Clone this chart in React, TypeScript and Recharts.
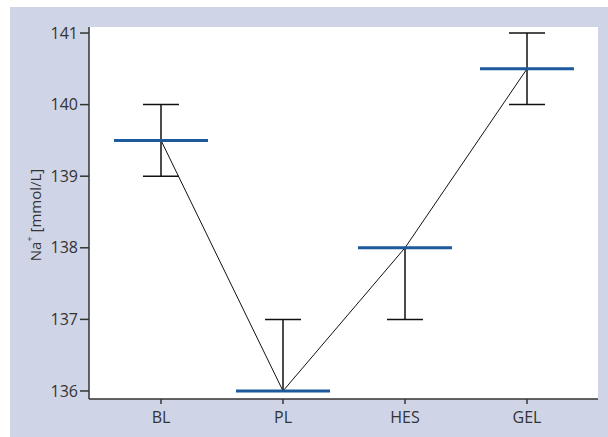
import React from "react"
import { ComposedChart, Line, Scatter, XAxis, YAxis, ErrorBar, CartesianGrid } from "recharts"

const categories = ["BL", "PL", "HES", "GEL"]
const means = [139.5, 136, 138, 140.5]
const lows = [139, 136, 137, 140]
const highs = [140, 137, 138, 141]
const yTicks = [136, 137, 138, 139, 140, 141]

const FONT = "'Open Sans', 'Noto Sans', sans-serif"
const BG = "#cfd5e7"
const BLUE = "#1d5a9c"
const AXIS = "#333333"

const data = categories.map((name, i) => ({
  name,
  mean: means[i],
  err: [means[i] - lows[i], highs[i] - means[i]],
}))

function MeanBar(props: any) {
  const { cx, cy } = props
  if (cx == null || cy == null) return null
  return <line x1={cx - 47} x2={cx + 47} y1={cy} y2={cy} stroke={BLUE} strokeWidth={3} />
}

function YLabel(props: any) {
  const vb = props.viewBox || { x: 0, y: 0, width: 0, height: 0 }
  const x = vb.x + 25
  const y = vb.y + vb.height / 2 + 2
  return (
    <text
      x={x}
      y={y}
      transform={`rotate(-90, ${x}, ${y})`}
      textAnchor="middle"
      dominantBaseline="central"
      fill={AXIS}
      fontSize={15}
      fontFamily={FONT}
    >
      Na<tspan fontSize={9} dy={-6}>+</tspan>
      <tspan dy={6}> [mmol/L]</tspan>
    </text>
  )
}

export default function App() {
  return (
    <div style={{ position: "absolute", left: 10, top: 7, width: 598, height: 430, background: BG }}>
      <ComposedChart width={598} height={430} data={data} margin={{ top: 20, right: 10, bottom: 0, left: 0 }}>
        <CartesianGrid fill="#ffffff" horizontal={false} vertical={false} stroke="none" />
        <XAxis
          dataKey="name"
          padding={{ left: 72, right: 71 }}
          height={38}
          tickSize={5}
          tickMargin={8}
          axisLine={{ stroke: AXIS, strokeWidth: 1.5 }}
          tickLine={{ stroke: AXIS, strokeWidth: 1.5 }}
          tick={{ fill: AXIS, fontSize: 16, fontFamily: FONT }}
        />
        <YAxis
          type="number"
          width={79}
          domain={[135.888, 141.084]}
          ticks={yTicks}
          allowDataOverflow
          tickSize={9}
          tickMargin={2}
          axisLine={{ stroke: AXIS, strokeWidth: 1.5 }}
          tickLine={{ stroke: AXIS, strokeWidth: 1.5 }}
          tick={{ fill: AXIS, fontSize: 16, fontFamily: FONT }}
          label={{ content: (p: any) => <YLabel {...p} /> }}
        />
        <Line dataKey="mean" stroke="#111111" strokeWidth={1} dot={false} isAnimationActive={false}>
          <ErrorBar dataKey="err" width={18} stroke="#111111" strokeWidth={1.5} direction="y" />
        </Line>
        <Scatter dataKey="mean" shape={<MeanBar />} isAnimationActive={false} />
      </ComposedChart>
    </div>
  )
}
